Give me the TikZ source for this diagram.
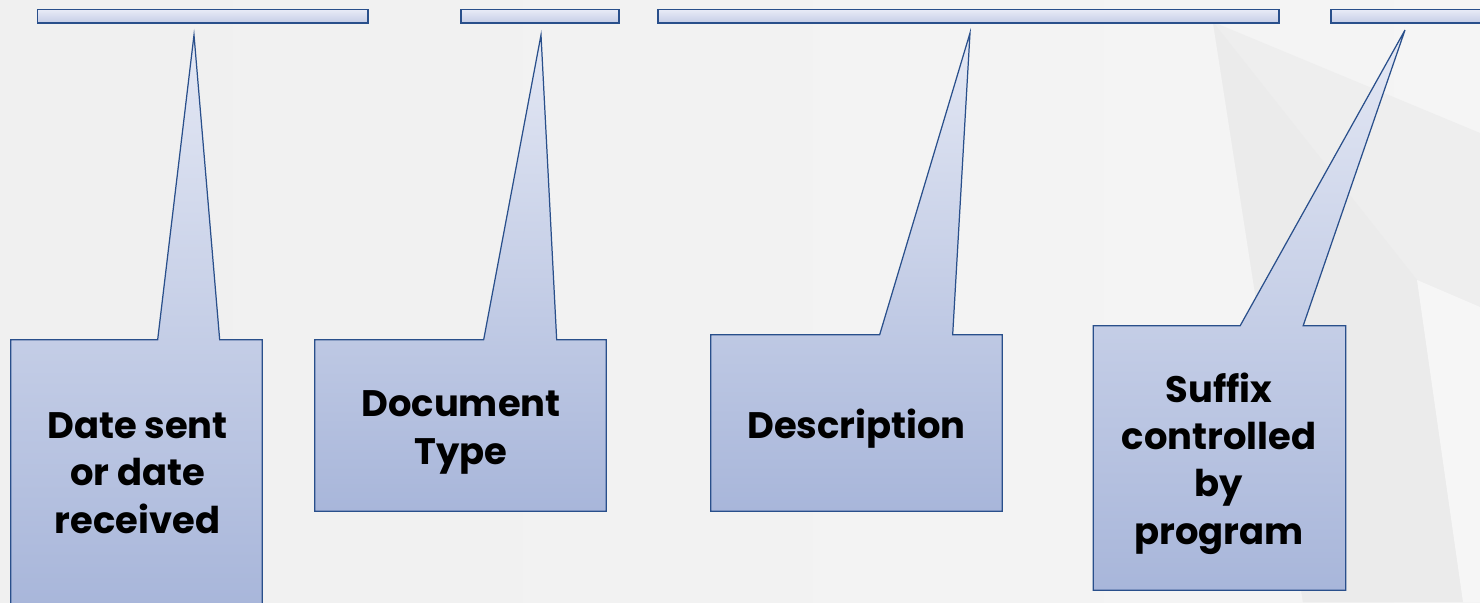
\documentclass[tikz,border=0pt]{standalone}
\usepackage{fontspec}
\setmainfont{Poppins}
\usepackage{tikz}
\usetikzlibrary{calc,backgrounds}

\definecolor{edge}{RGB}{41,79,139}
\definecolor{boxtop}{RGB}{228,232,244}
\definecolor{boxbot}{RGB}{168,182,218}
\definecolor{bartop}{RGB}{233,236,247}
\definecolor{barbot}{RGB}{196,204,230}

\tikzset{
    bar/.style={draw=edge, line width=0.8pt, top color=bartop, bottom color=barbot,
        inner sep=0pt, minimum height=0.28cm},
    box/.style={inner sep=0pt},
    txt/.style={inner sep=0pt, align=center, text=black,
        font=\bfseries\fontsize{21}{27}\selectfont,
        execute at begin node=\strut, execute at end node=\strut},
    callout/.style={draw=edge, line width=0.7pt, line join=miter,
        top color=boxtop, bottom color=boxbot},
}

% outline of a box with its pointer: box, left foot, right foot, tip
\newcommand{\pointer}[4]{%
    \begin{pgfonlayer}{background}
        \draw[callout] (#1.south west) -- (#1.north west) -- ($(#1.north west)+(#2,0)$)
            -- (#4) -- ($(#1.north west)+(#3,0)$) -- (#1.north east) -- (#1.south east) -- cycle;
    \end{pgfonlayer}}

\begin{document}
\begin{tikzpicture}[x=0.02cm, y=-0.02cm]
    \useasboundingbox (0,0) rectangle (1480,602);
    \begin{pgfonlayer}{background}
        \shade[left color=black!6, middle color=black!3.5, right color=black!4] (0,0) rectangle (1480,602);
        \fill[black!6.5] (1213,22) -- (1480,133) -- (1480,602) -- (1303,602) -- cycle;
        \fill[black!8] (1213,22) -- (1417,280) -- (1463,602) -- (1303,602) -- cycle;
        \fill[black!3.5] (1417,280) -- (1480,307) -- (1480,602) -- (1463,602) -- cycle;
    \end{pgfonlayer}

    % bars along the top
    \node[bar, minimum width=6.61cm] (b1) at (202.9,16.2) {};
    \node[bar, minimum width=3.16cm] (b2) at (540,16.2) {};
    \node[bar, minimum width=12.42cm] (b3) at (968.5,16.2) {};
    \node[bar, minimum width=3.78cm] (b4) at (1425.5,16.2) {};

    \coordinate (t1) at (194,35);
    \coordinate (t2) at (541,35);
    \coordinate (t3) at (970,33);
    \coordinate (t4) at (1405,30);

    % boxes
    \node[box, minimum width=5.02cm, minimum height=5.32cm] (date) at (136.5,473) {};
    \node[box, minimum width=5.82cm, minimum height=3.42cm] (type) at (460.5,425.5) {};
    \node[box, minimum width=5.82cm, minimum height=3.52cm] (desc) at (856.5,423) {};
    \node[box, minimum width=5.04cm, minimum height=5.28cm] (suffix) at (1219.5,458) {};

    \pointer{date}{147}{209}{t1}
    \pointer{type}{169}{242}{t2}
    \pointer{desc}{169}{242}{t3}
    \pointer{suffix}{147}{210}{t4}

    \node[txt] (date-t) at (137.5,480) {Date sent\\or date\\received};
    \node[txt] (type-t) at (461,434.5) {Document\\Type};
    \node[txt] (desc-t) at (856.5,429.5) {Description};
    \node[txt] (suffix-t) at (1219,465.5) {Suffix\\controlled\\by\\program};
\end{tikzpicture}
\end{document}
